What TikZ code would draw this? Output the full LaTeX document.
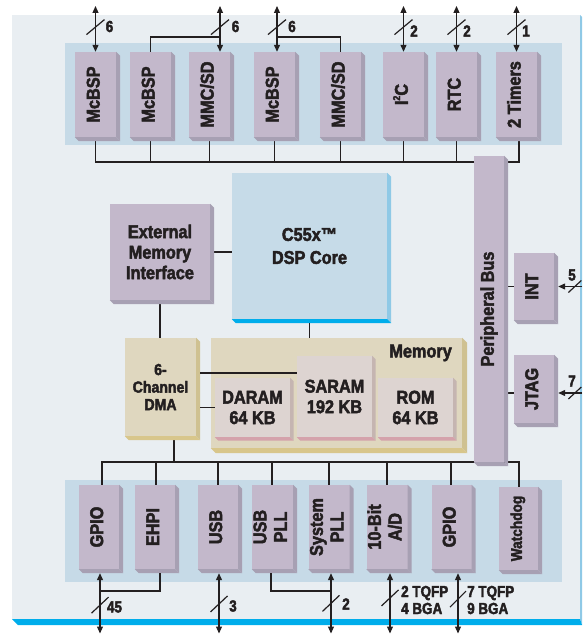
\documentclass[tikz,border=0pt]{standalone}
\usepackage{fontspec}
\setmainfont{Liberation Sans}
\newfontfamily\hv{Liberation Sans Bold}[FakeStretch=0.88, FakeBold=2.5]
\newfontfamily\lblfont{Liberation Sans Bold}[FakeStretch=0.84, FakeBold=2.5]
\usetikzlibrary{arrows.meta}
\definecolor{panel}{HTML}{E9EEF2}
\definecolor{strip}{HTML}{C6DAE7}
\definecolor{pfill}{HTML}{C3B8CB}
\definecolor{pshade}{HTML}{A7A0B3}
\definecolor{cfill}{HTML}{C6DBE8}
\definecolor{cside}{HTML}{8FC9E6}
\definecolor{cbot}{HTML}{00ADEB}
\definecolor{tfill}{HTML}{DFD7BF}
\definecolor{tside}{HTML}{CFC191}
\definecolor{tbot}{HTML}{D8C68B}
\definecolor{mfill}{HTML}{DDD4D1}
\definecolor{mside}{HTML}{C5B5B1}
\definecolor{mbot}{HTML}{D4A2AB}
\definecolor{ink}{HTML}{231F20}
\newcommand\fbig{\hv\fontsize{18.5}{20.5}\selectfont}
\newcommand\fcore{\hv\fontsize{18.5}{23}\selectfont}
\newcommand\fmid{\hv\fontsize{16}{17.5}\selectfont}
\newcommand\fsm{\hv\fontsize{15.5}{17}\selectfont}
\newcommand\flbl{\lblfont\fontsize{16}{17}\selectfont}
\newcommand\vt[1]{\rotatebox{90}{\begin{tabular}{@{}c@{}}#1\end{tabular}}}
\newcommand\extr[4]{%
  \fill[#3] (#1.north east) -- ++(#2,#2) -- ([shift={(#2,#2)}]#1.south east) -- (#1.south east) -- cycle;
  \fill[#4] (#1.south west) -- ++(#2,#2) -- ([shift={(#2,#2)}]#1.south east) -- (#1.south east) -- cycle;}
\newcommand\slashat[3]{\draw[ln] ([shift={(-#2,#3)}]#1) -- ([shift={(#2,-#3)}]#1);}
\tikzset{
  box/.style={inner sep=0pt, align=center, text=ink, font=\fbig},
  pb/.style={box, fill=pfill, minimum width=41, minimum height=85},
  ln/.style={draw=ink, line width=1.2pt},
  io/.style={ln, {Triangle[length=7pt,width=6pt]}-{Triangle[length=7pt,width=6pt]}},
  inarr/.style={ln, -{Triangle[length=7pt,width=6pt]}},
  lbl/.style={inner sep=0pt, text=ink, font=\flbl, align=left}
}
\begin{document}
\begin{tikzpicture}[x=1pt,y=-1pt]
\useasboundingbox (0,0) rectangle (582,634);
% panel
\fill[panel] (12,15) rectangle (580,619);
\fill[cside] (580,15) -- (582,17) -- (582,625) -- (580,619) -- cycle;
\fill[cbot] (12,619) -- (18,625) -- (582,625) -- (580,619) -- cycle;
\fill[strip] (65,43) rectangle (562,145);
\fill[strip] (65,480) rectangle (562,582);
% helper coordinates
\coordinate (topE) at (0,6);
\coordinate (jn1) at (0,37);
\coordinate (busT) at (0,162);
\coordinate (busB) at (0,462);
\coordinate (jb) at (0,591);
\coordinate (botE) at (0,633.5);
\coordinate (rightE) at (582,0);
% top row
\node[pb] (mc1) at (95.5,94.5) {\vt{McBSP}};
\node[pb] (mc2) at (150.5,94.5) {\vt{McBSP}};
\node[pb] (mmc1) at (209.5,94.5) {\vt{MMC/SD}};
\node[pb] (mc3) at (274.5,94.5) {\vt{McBSP}};
\node[pb] (mmc2) at (340.5,94.5) {\vt{MMC/SD}};
\node[pb] (i2c) at (403.5,94.5) {\vt{I\raisebox{0.42em}{\fontsize{10}{10}\selectfont 2}C}};
\node[pb] (rtc) at (456.5,94.5) {\vt{RTC}};
\node[pb] (tim) at (516.5,94.5) {\vt{2 Timers}};
% peripheral bus, INT, JTAG
\node[box, fill=pfill, minimum width=30, minimum height=306] (pbus) at (489,309) {};
\node[box, fill=pfill, minimum width=40, minimum height=67] (int) at (534,286.5) {\vt{INT}};
\node[box, fill=pfill, minimum width=40, minimum height=68] (jtag) at (534,389) {\vt{JTAG}};
% core, EMI
\node[box, fill=cfill, minimum width=155, minimum height=146, font=\fcore] (core) at (309.5,246) {C55x™\\DSP Core};
\node[box, fill=pfill, minimum width=100, minimum height=96] (emi) at (160,252) {External\\Memory\\Interface};
% DMA, memory
\node[box, fill=tfill, minimum width=71, minimum height=98, font=\fmid] (dma) at (160.5,387) {6-\\Channel\\DMA};
\node[box, fill=tfill, minimum width=251, minimum height=110] (mem) at (336.5,393) {};
% bottom row
\node[pb, minimum width=40, minimum height=84] (gp1) at (99,527) {\vt{GPIO}};
\node[pb, minimum width=40, minimum height=84] (ehpi) at (155,527) {\vt{EHPI}};
\node[pb, minimum width=40, minimum height=84] (usb) at (218,527) {\vt{USB}};
\node[pb, minimum width=41, minimum height=84] (usbpll) at (272.5,527) {\vt{USB\\PLL}};
\node[pb, minimum width=40, minimum height=84] (syspll) at (329,527) {\vt{System\\PLL}};
\node[pb, minimum width=40, minimum height=84] (ad) at (387,527) {\vt{10-Bit\\A/D}};
\node[pb, minimum width=40, minimum height=84] (gp2) at (451.5,527) {\vt{GPIO}};
\node[pb, minimum width=39, minimum height=83, font=\fsm] (wd) at (518.5,528.5) {\vt{Watchdog}};
% top bus
\draw[ln] ([yshift=-4]mc1.south) |- ([xshift=2.5]tim.south |- busT) -- ([xshift=2.5,yshift=-4]tim.south);
\foreach \n in {mc2,mmc1,mc3,mmc2,i2c,rtc} \draw[ln] ([yshift=-4]\n.south) -- (\n.south |- busT);
% bus links to INT/JTAG
\draw[ln] (int.west) -- ([xshift=4]int.west -| pbus.east);
\draw[ln] ([yshift=-4]jtag.west) -- ([xshift=4,yshift=-4]jtag.west -| pbus.east);
% EMI links
\draw[ln] ([xshift=4]emi.east) -- (emi.east -| core.west);
\draw[ln] ([yshift=-4]emi.south) -- (emi.south |- dma.north);
% bottom bus
\draw[ln] ([xshift=3]gp1.north) |- ([xshift=0.5]wd.north |- busB) -- ([xshift=0.5]wd.north);
\draw[ln] ([xshift=1]ehpi.north) -- ([xshift=1]ehpi.north |- busB);
\draw[ln] (usb.north) -- (usb.north |- busB);
\draw[ln] ([xshift=-0.5]usbpll.north) -- ([xshift=-0.5]usbpll.north |- busB);
\draw[ln] (syspll.north) -- (syspll.north |- busB);
\draw[ln] (ad.north) -- (ad.north |- busB);
\draw[ln] ([xshift=-0.5]gp2.north) -- ([xshift=-0.5]gp2.north |- busB);
\draw[ln] ([xshift=13.5,yshift=-4]dma.south) -- ([xshift=13.5]dma.south |- busB);
% shadows
\foreach \n in {mc1,mc2,mmc1,mc3,mmc2,i2c,rtc,tim,pbus,int,jtag,emi,gp1,ehpi,usb,usbpll,syspll,ad,gp2,wd} {\extr{\n}{4}{pshade}{pshade}}
\extr{core}{4}{cside}{cbot}
\extr{dma}{4}{tside}{tbot}
\extr{mem}{5}{tside}{tbot}
% peripheral bus face over the bus lines
\fill[pfill] (pbus.north west) rectangle (pbus.south east);
\node[box, rotate=90, font=\hv\fontsize{18.5}{20}\selectfont] (pbuslbl) at (pbus) {Peripheral Bus};
% memory contents
\node[box, anchor=east] (memlbl) at (452,353) {Memory};
\node[box, fill=mfill, minimum width=75, minimum height=59] (daram) at (252.5,407.5) {DARAM\\64 KB};
\node[box, fill=mfill, minimum width=75, minimum height=81] (saram) at (334.5,396.5) {SARAM\\192 KB};
\node[box, fill=mfill, minimum width=75, minimum height=59] (rom) at (415.5,407.5) {ROM\\64 KB};
\foreach \n in {daram,saram,rom} {\extr{\n}{3.5}{mside}{mbot}}
\draw[ln] ([xshift=4,yshift=14]dma.east) -- ([yshift=14]dma.east -| saram.west);
\draw[ln] (daram.west) -- ([xshift=4]daram.west -| dma.east);
\draw[ln] ([yshift=-4]core.south) -- (core.south |- mem.north);
% top I/O arrows
\draw[io] (mc1.north) -- (mc1.north |- topE) coordinate[pos=0.54] (s1);
\slashat{s1}{9}{7.5}
\node[lbl] (l1) at (109.5,26.5) {6};
\draw[io] ([xshift=10.5]mmc1.north) -- ([xshift=10.5]mmc1.north |- topE) coordinate[pos=0.54] (s2);
\draw[ln] (mc2.north) |- ([xshift=10.5]mmc1.north |- jn1);
\slashat{s2}{9}{7.5}
\node[lbl] (l2) at (235.5,26.5) {6};
\draw[io] ([xshift=2.5]mc3.north) -- ([xshift=2.5]mc3.north |- topE) coordinate[pos=0.54] (s3);
\draw[ln] (mmc2.north) |- ([xshift=2.5]mc3.north |- jn1);
\slashat{s3}{9}{7.5}
\node[lbl] (l3) at (292,26.5) {6};
\draw[io] (i2c.north) -- (i2c.north |- topE) coordinate[pos=0.54] (s4);
\slashat{s4}{9}{7.5}
\node[lbl] (l4) at (414,31) {2};
\draw[io] (rtc.north) -- (rtc.north |- topE) coordinate[pos=0.54] (s5);
\slashat{s5}{9}{7.5}
\node[lbl] (l5) at (467,31) {2};
\draw[io] (tim.north) -- (tim.north |- topE) coordinate[pos=0.54] (s6);
\slashat{s6}{9}{7.5}
\node[lbl] (l6) at (526,31) {1};
% right inputs
\draw[inarr] (int.east -| rightE) -- ([xshift=4]int.east) coordinate[pos=0.3] (s7);
\slashat{s7}{6.5}{6}
\node[lbl] (l7) at (572,275) {5};
\draw[inarr] ([yshift=-4]jtag.east -| rightE) -- ([xshift=4,yshift=-4]jtag.east) coordinate[pos=0.3] (s8);
\slashat{s8}{6.5}{6}
\node[lbl] (l8) at (572,381) {7};
% bottom I/O arrows
\draw[io] ([xshift=1,yshift=-4]gp1.south) -- ([xshift=1]gp1.south |- botE) coordinate[pos=0.53] (b1);
\draw[ln] ([xshift=5,yshift=-4]ehpi.south) |- ([xshift=1]gp1.south |- jb);
\slashat{b1}{8.5}{8}
\node[lbl] (lb1) at (114.5,607) {45};
\draw[io] ([xshift=1,yshift=-4]usb.south) -- ([xshift=1]usb.south |- botE) coordinate[pos=0.51] (b2);
\slashat{b2}{8.5}{8}
\node[lbl] (lb2) at (233,606) {3};
\draw[io] ([xshift=2,yshift=-4]syspll.south) -- ([xshift=2]syspll.south |- botE) coordinate[pos=0.5] (b3);
\draw[ln] ([xshift=-1.5,yshift=-4]usbpll.south) |- ([xshift=2]syspll.south |- jb);
\slashat{b3}{8.5}{8}
\node[lbl] (lb3) at (346,604) {2};
\draw[io] ([xshift=3,yshift=-4]ad.south) -- ([xshift=3]ad.south |- botE) coordinate[pos=0.41] (b4);
\slashat{b4}{8.5}{8}
\node[lbl, anchor=west] (lb4) at (401,600) {2 TQFP\\4 BGA};
\draw[io] ([xshift=6.5,yshift=-4]gp2.south) -- ([xshift=6.5]gp2.south |- botE) coordinate[pos=0.43] (b5);
\slashat{b5}{8}{8}
\node[lbl, anchor=west] (lb5) at (467,600) {7 TQFP\\9 BGA};
\end{tikzpicture}
\end{document}
